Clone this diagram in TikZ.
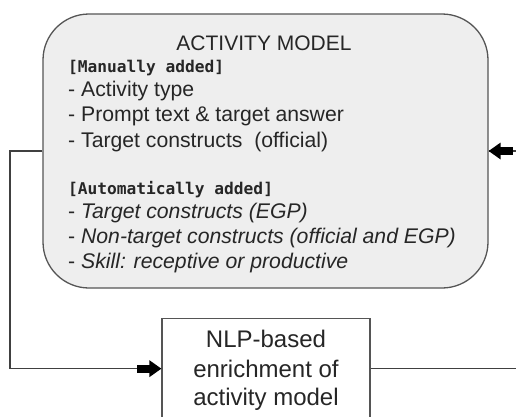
\documentclass[tikz,border=0pt]{standalone}
\usepackage{fontspec}
\setmainfont{Liberation Sans}
\newfontfamily\monobold{DejaVu Sans Mono}
\usetikzlibrary{arrows.meta}
\definecolor{boxfill}{HTML}{EEEEEE}
\definecolor{edge}{HTML}{555555}
\tikzset{
  model/.style={draw=edge, line width=1.3pt, fill=boxfill, rounded corners=46pt, minimum width=445pt, minimum height=274pt, inner sep=0pt},
  procbox/.style={draw=edge, line width=1.3pt, fill=white, minimum width=208pt, minimum height=100pt, inner sep=0pt},
  item/.style={anchor=base west, inner sep=0pt, font=\fontsize{21.2}{24}\selectfont, text=black!85},
  tag/.style={anchor=base west, inner sep=0pt, font=\monobold\bfseries\fontsize{16.2}{19}\selectfont, text=black!85},
  proctext/.style={anchor=base, inner sep=0pt, font=\fontsize{24}{28}\selectfont, text=black!85},
  conn/.style={draw=black!75, line width=1.1pt},
  stub/.style={line width=8pt, draw=black}
}
\begin{document}
\begin{tikzpicture}[x=1pt,y=-1pt]
\useasboundingbox (0,0) rectangle (516,416);
\clip (0,0) rectangle (516,416);
\fill[white] (0,0) rectangle (516,416);
\node[model] (model) at (265.5,151) {};
\node[procbox, anchor=north] (nlp) at (266,318) {};
\node[anchor=base, inner sep=0pt, font=\fontsize{21}{25}\selectfont, text=black!85] (title) at (264,50) {ACTIVITY MODEL};
\node[tag] (t1) at (68,72) {[Manually added]};
\node[item] (i1) at (68,96) {- Activity type};
\node[item] (i2) at (68,121) {- Prompt text \& target answer};
\node[item] (i3) at (68,147) {- Target constructs\ \ (official)};
\node[tag] (t2) at (68,194) {[Automatically added]};
\node[item] (i4) at (68,218) {- \textit{Target constructs (EGP)}};
\node[item] (i5) at (68,243) {- \textit{Non-target constructs (official and EGP)}};
\node[item] (i6) at (68,268) {- \textit{Skill: receptive or productive}};
\node[proctext] (n1) at (266,347) {NLP-based};
\node[proctext] (n2) at (266,377) {enrichment of};
\node[proctext] (n3) at (266,405) {activity model};
\coordinate (lc) at (10,151);
\coordinate (rc) at (522,151);
\draw[conn] (model.west) -- (lc) |- (nlp.west);
\draw[conn] (nlp.east) -| (rc) -- (model.east);
% fat arrow heads
\coordinate (la) at ([xshift=-24pt]nlp.west);
\coordinate (ra) at ([xshift=24pt]model.east);
\draw[stub, shorten >=11pt] (la) -- (nlp.west);
\fill[black] (nlp.west) -- ++(-12,-8.5) -- ++(0,17) -- cycle;
\draw[stub, shorten >=11pt] (ra) -- (model.east);
\fill[black] (model.east) -- ++(12,-8.5) -- ++(0,17) -- cycle;
\end{tikzpicture}
\end{document}
